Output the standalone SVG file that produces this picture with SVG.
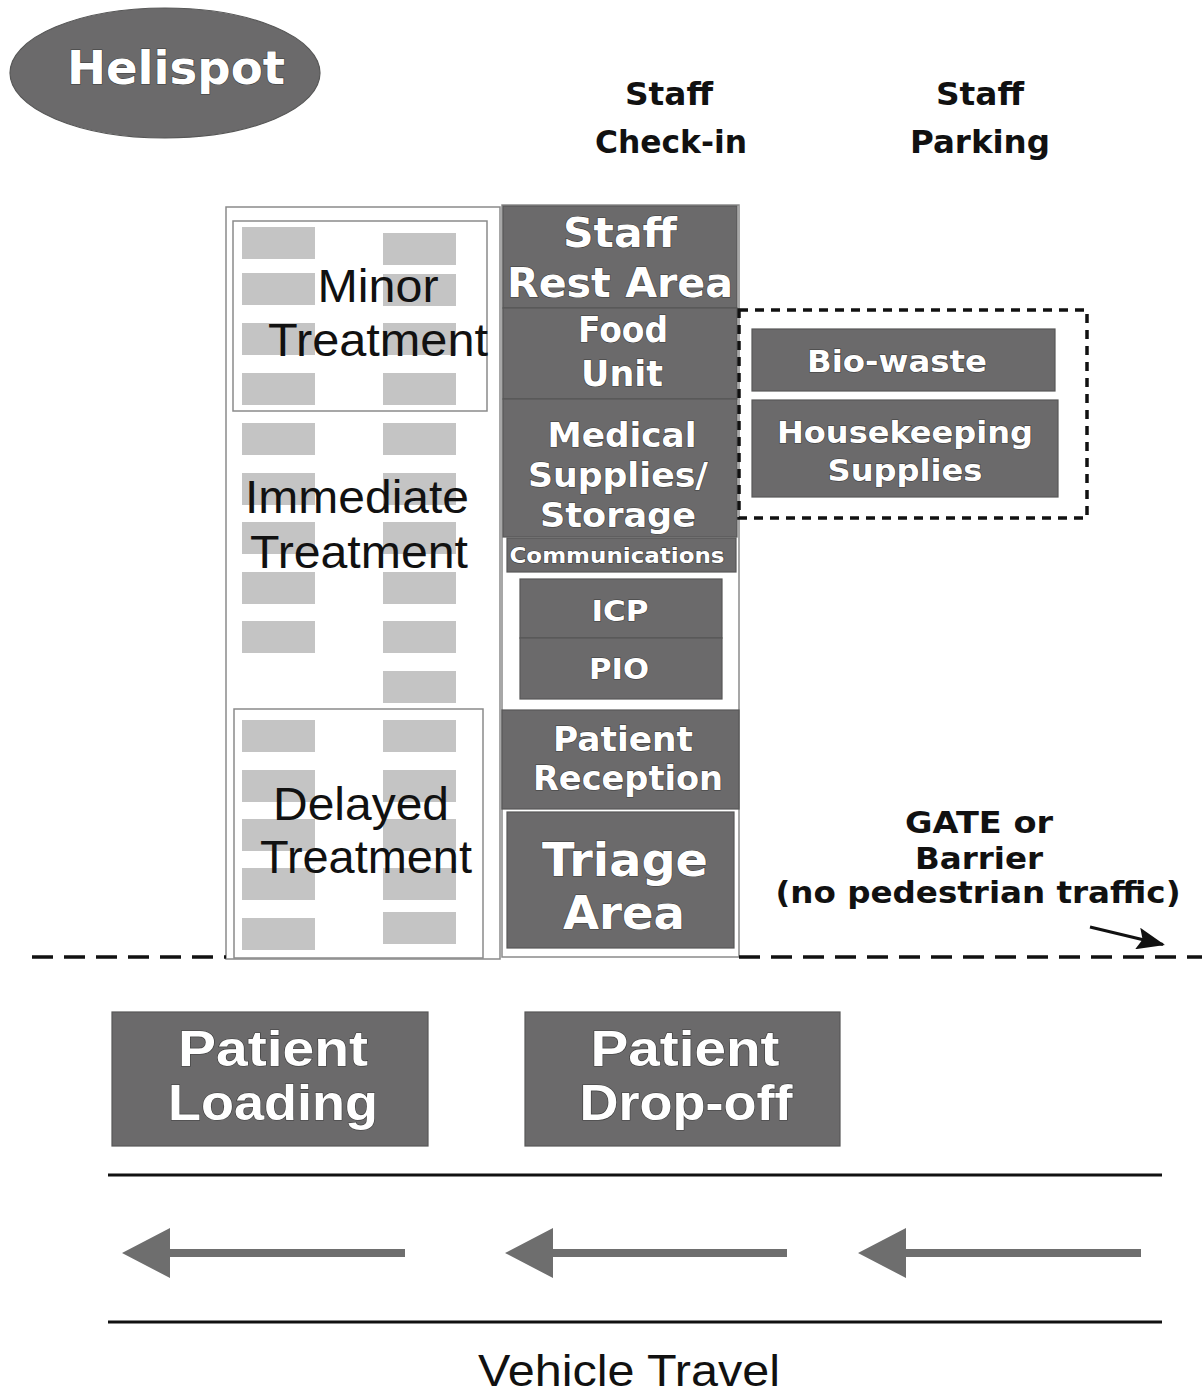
<svg xmlns="http://www.w3.org/2000/svg" width="1202" height="1397" viewBox="0 0 1202 1397">
  <style>
    .dark { fill: #6b6a6b; stroke: #575757; stroke-width: 1.2; }
    .bed { fill: #c4c4c4; }
    .frame { fill: none; stroke: #8a8a8a; stroke-width: 1.5; }
    .wt { font-family: "DejaVu Sans", "Liberation Sans", sans-serif; font-weight: bold; fill: #ffffff; stroke: #3c3c3c; stroke-width: 1.2; paint-order: stroke; text-anchor: middle; }
    .wn { font-family: "Liberation Sans", Arial, sans-serif; font-weight: bold; fill: #ffffff; stroke: #3c3c3c; stroke-width: 1.2; paint-order: stroke; text-anchor: middle; }
    .bk { font-family: "DejaVu Sans", "Liberation Sans", sans-serif; font-weight: bold; fill: #111111; text-anchor: middle; }
    .zone { font-family: "Liberation Sans", Arial, sans-serif; fill: #111111; text-anchor: middle; }
    .road { stroke: #111111; stroke-width: 3; }
    .lane { fill: #6e6e6e; }
  </style>
  <defs>
    <marker id="ahead" viewBox="0 0 28 22" refX="26" refY="11" markerWidth="28" markerHeight="22" markerUnits="userSpaceOnUse" orient="auto">
      <path d="M0,0 L28,11 L0,22 L5,11 z" fill="#111111"/>
    </marker>
  </defs>

  <rect width="1202" height="1397" fill="#ffffff"/>

  <!-- Helispot -->
  <g id="helispot">
    <ellipse cx="165" cy="73" rx="155" ry="65" class="dark"/>
    <text x="176" y="84" class="wt" font-size="46" textLength="218" lengthAdjust="spacingAndGlyphs">Helispot</text>
  </g>

  <!-- Staff labels -->
  <g id="staff-checkin">
    <text x="669" y="105" class="bk" font-size="32" textLength="88" lengthAdjust="spacingAndGlyphs">Staff</text>
    <text x="671" y="153" class="bk" font-size="32" textLength="152" lengthAdjust="spacingAndGlyphs">Check-in</text>
  </g>
  <g id="staff-parking">
    <text x="980" y="105" class="bk" font-size="32" textLength="88" lengthAdjust="spacingAndGlyphs">Staff</text>
    <text x="980" y="153" class="bk" font-size="32" textLength="140" lengthAdjust="spacingAndGlyphs">Parking</text>
  </g>

  <!-- Treatment area with bed rows -->
  <g id="treatment-area">
    <rect x="226" y="207" width="274" height="752" class="frame"/>
    <g id="beds-left">
      <rect x="242" y="227" width="73" height="32" class="bed"/>
      <rect x="242" y="273" width="73" height="32" class="bed"/>
      <rect x="242" y="323" width="73" height="32" class="bed"/>
      <rect x="242" y="373" width="73" height="32" class="bed"/>
      <rect x="242" y="423" width="73" height="32" class="bed"/>
      <rect x="242" y="473" width="73" height="32" class="bed"/>
      <rect x="242" y="522" width="73" height="32" class="bed"/>
      <rect x="242" y="572" width="73" height="32" class="bed"/>
      <rect x="242" y="621" width="73" height="32" class="bed"/>
      <rect x="242" y="720" width="73" height="32" class="bed"/>
      <rect x="242" y="770" width="73" height="32" class="bed"/>
      <rect x="242" y="819" width="73" height="32" class="bed"/>
      <rect x="242" y="868" width="73" height="32" class="bed"/>
      <rect x="242" y="918" width="73" height="32" class="bed"/>
    </g>
    <g id="beds-right">
      <rect x="383" y="233" width="73" height="32" class="bed"/>
      <rect x="383" y="274" width="73" height="32" class="bed"/>
      <rect x="383" y="323" width="73" height="32" class="bed"/>
      <rect x="383" y="373" width="73" height="32" class="bed"/>
      <rect x="383" y="423" width="73" height="32" class="bed"/>
      <rect x="383" y="473" width="73" height="32" class="bed"/>
      <rect x="383" y="522" width="73" height="32" class="bed"/>
      <rect x="383" y="572" width="73" height="32" class="bed"/>
      <rect x="383" y="621" width="73" height="32" class="bed"/>
      <rect x="383" y="671" width="73" height="32" class="bed"/>
      <rect x="383" y="720" width="73" height="32" class="bed"/>
      <rect x="383" y="770" width="73" height="32" class="bed"/>
      <rect x="383" y="819" width="73" height="32" class="bed"/>
      <rect x="383" y="868" width="73" height="32" class="bed"/>
      <rect x="383" y="912" width="73" height="32" class="bed"/>
    </g>
  </g>

  <g id="minor-treatment">
    <rect x="233" y="221" width="254" height="190" class="frame"/>
    <text x="378" y="302" class="zone" font-size="47" textLength="121" lengthAdjust="spacingAndGlyphs">Minor</text>
    <text x="378" y="356" class="zone" font-size="47" textLength="220" lengthAdjust="spacingAndGlyphs">Treatment</text>
  </g>

  <g id="immediate-treatment">
    <text x="357" y="513" class="zone" font-size="47" textLength="224" lengthAdjust="spacingAndGlyphs">Immediate</text>
    <text x="359" y="568" class="zone" font-size="47" textLength="218" lengthAdjust="spacingAndGlyphs">Treatment</text>
  </g>

  <g id="delayed-treatment">
    <rect x="234" y="709" width="249" height="249" class="frame"/>
    <text x="361" y="820" class="zone" font-size="47" textLength="176" lengthAdjust="spacingAndGlyphs">Delayed</text>
    <text x="366" y="873" class="zone" font-size="47" textLength="212" lengthAdjust="spacingAndGlyphs">Treatment</text>
  </g>

  <!-- Support column -->
  <g id="support-column">
    <rect x="502" y="205" width="237" height="752" class="frame"/>
  </g>

  <g id="staff-rest-area">
    <rect x="503" y="206" width="234" height="102" class="dark"/>
    <text x="620" y="247" class="wt" font-size="40" textLength="114" lengthAdjust="spacingAndGlyphs">Staff</text>
    <text x="620" y="297" class="wt" font-size="40" textLength="226" lengthAdjust="spacingAndGlyphs">Rest Area</text>
  </g>

  <g id="food-unit">
    <rect x="503" y="308" width="234" height="91" class="dark"/>
    <text x="623" y="342" class="wt" font-size="35" textLength="90" lengthAdjust="spacingAndGlyphs">Food</text>
    <text x="622" y="386" class="wt" font-size="35" textLength="82" lengthAdjust="spacingAndGlyphs">Unit</text>
  </g>

  <g id="medical-supplies">
    <rect x="503" y="399" width="234" height="138" class="dark"/>
    <text x="622" y="447" class="wt" font-size="34" textLength="149" lengthAdjust="spacingAndGlyphs">Medical</text>
    <text x="618" y="487" class="wt" font-size="34" textLength="180" lengthAdjust="spacingAndGlyphs">Supplies/</text>
    <text x="618" y="527" class="wt" font-size="34" textLength="156" lengthAdjust="spacingAndGlyphs">Storage</text>
  </g>

  <g id="communications">
    <rect x="507" y="538" width="229" height="34" class="dark"/>
    <text x="617" y="563" class="wt" font-size="21" stroke-width="0.8" textLength="215" lengthAdjust="spacingAndGlyphs">Communications</text>
  </g>

  <g id="icp">
    <rect x="520" y="579" width="202" height="59" class="dark"/>
    <text x="620" y="621" class="wt" font-size="29" textLength="57" lengthAdjust="spacingAndGlyphs">ICP</text>
  </g>

  <g id="pio">
    <rect x="520" y="638" width="202" height="61" class="dark"/>
    <text x="619" y="679" class="wt" font-size="29" textLength="60" lengthAdjust="spacingAndGlyphs">PIO</text>
  </g>

  <g id="patient-reception">
    <rect x="502" y="710" width="237" height="99" class="dark"/>
    <text x="623" y="751" class="wt" font-size="33" textLength="140" lengthAdjust="spacingAndGlyphs">Patient</text>
    <text x="628" y="790" class="wt" font-size="33" textLength="190" lengthAdjust="spacingAndGlyphs">Reception</text>
  </g>

  <g id="triage-area">
    <rect x="507" y="812" width="227" height="136" class="dark"/>
    <text x="625" y="876" class="wt" font-size="46" textLength="166" lengthAdjust="spacingAndGlyphs">Triage</text>
    <text x="624" y="929" class="wt" font-size="46" textLength="122" lengthAdjust="spacingAndGlyphs">Area</text>
  </g>

  <!-- Waste and housekeeping enclosure -->
  <g id="storage-enclosure">
    <rect x="739" y="310" width="348" height="208" fill="none" stroke="#111111" stroke-width="3.5" stroke-dasharray="9 7"/>
  </g>

  <g id="bio-waste">
    <rect x="752" y="329" width="303" height="62" class="dark"/>
    <text x="897" y="372" class="wt" font-size="30" textLength="180" lengthAdjust="spacingAndGlyphs">Bio-waste</text>
  </g>

  <g id="housekeeping-supplies">
    <rect x="752" y="400" width="306" height="97" class="dark"/>
    <text x="905" y="443" class="wt" font-size="30" textLength="256" lengthAdjust="spacingAndGlyphs">Housekeeping</text>
    <text x="905" y="481" class="wt" font-size="30" textLength="155" lengthAdjust="spacingAndGlyphs">Supplies</text>
  </g>

  <!-- Gate / barrier note -->
  <g id="gate-barrier">
    <text x="979" y="833" class="bk" font-size="30" textLength="148" lengthAdjust="spacingAndGlyphs">GATE or</text>
    <text x="979" y="869" class="bk" font-size="30" textLength="128" lengthAdjust="spacingAndGlyphs">Barrier</text>
    <text x="978" y="903" class="bk" font-size="30" textLength="405" lengthAdjust="spacingAndGlyphs">(no pedestrian traffic)</text>
  </g>

  <!-- Connectors: barrier line, gate pointer, road edges -->
  <g id="connectors">
    <line x1="32" y1="957" x2="226" y2="957" stroke="#111111" stroke-width="3.5" stroke-dasharray="21 11"/>
    <line x1="739" y1="957" x2="1202" y2="957" stroke="#111111" stroke-width="3.5" stroke-dasharray="21 11"/>
    <line x1="1090" y1="927" x2="1163" y2="944.5" stroke="#111111" stroke-width="3" marker-end="url(#ahead)"/>
    <line x1="108" y1="1175" x2="1162" y2="1175" class="road"/>
    <line x1="108" y1="1322" x2="1162" y2="1322" class="road"/>
  </g>

  <!-- Patient loading / drop-off -->
  <g id="patient-loading">
    <rect x="112" y="1012" width="316" height="134" class="dark"/>
    <text x="273" y="1066" class="wn" font-size="50" textLength="190" lengthAdjust="spacingAndGlyphs">Patient</text>
    <text x="273" y="1120" class="wn" font-size="50" textLength="210" lengthAdjust="spacingAndGlyphs">Loading</text>
  </g>

  <g id="patient-dropoff">
    <rect x="525" y="1012" width="315" height="134" class="dark"/>
    <text x="685" y="1066" class="wn" font-size="50" textLength="189" lengthAdjust="spacingAndGlyphs">Patient</text>
    <text x="686" y="1120" class="wn" font-size="50" textLength="213" lengthAdjust="spacingAndGlyphs">Drop-off</text>
  </g>

  <!-- Traffic direction arrows -->
  <g id="traffic-arrows">
    <path class="lane" d="M122,1253 L170,1228 L170,1249 L405,1249 L405,1257 L170,1257 L170,1278 Z"/>
    <path class="lane" d="M505,1253 L553,1228 L553,1249 L787,1249 L787,1257 L553,1257 L553,1278 Z"/>
    <path class="lane" d="M858,1253 L906,1228 L906,1249 L1141,1249 L1141,1257 L906,1257 L906,1278 Z"/>
  </g>

  <g id="vehicle-travel">
    <text x="629" y="1386" class="zone" font-size="44" textLength="302" lengthAdjust="spacingAndGlyphs">Vehicle Travel</text>
  </g>
</svg>
